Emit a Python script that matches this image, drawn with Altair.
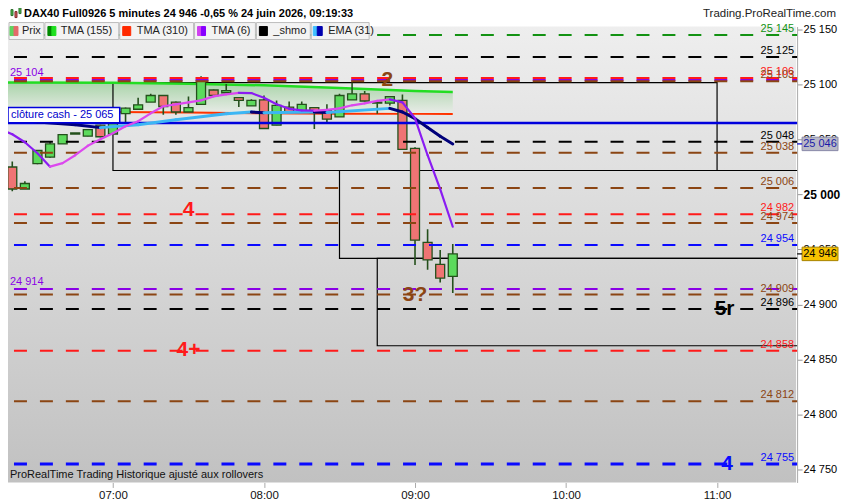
import altair as alt
import pandas as pd

# --- Bougies 5 minutes : heure, ouverture, plus haut, plus bas, cloture ---
candle_time = ["06:20", "06:25", "06:30", "06:35", "06:40", "06:45", "06:50", "06:55",
               "07:00", "07:05", "07:10", "07:15", "07:20", "07:25", "07:30", "07:35",
               "07:40", "07:45", "07:50", "07:55", "08:00", "08:05", "08:10", "08:15",
               "08:20", "08:25", "08:30", "08:35", "08:40", "08:45", "08:50", "08:55",
               "09:00", "09:05", "09:10", "09:15"]
candle_open = [25025, 25005, 25028, 25034, 25046, 25055, 25053, 25063, 25055, 25073.5,
               25077.5, 25084, 25090, 25084, 25075, 25082, 25095, 25092.5, 25088, 25080.5,
               25086, 25063, 25079.5, 25076, 25079, 25076.5, 25070.5, 25086, 25091.5, 25083,
               25083, 25085.5, 25042, 24956.5, 24936.5, 24925.5]
candle_high = [25030, 25012, 25040.5, 25048.5, 25055, 25056, 25059.5, 25063.5, 25069.5, 25079,
               25088, 25091.5, 25090.5, 25084.5, 25089, 25107.5, 25095.5, 25100.5, 25088.5, 25086.5,
               25090, 25085.5, 25084.5, 25084.5, 25079.5, 25082, 25091.5, 25101.5, 25094, 25085.5,
               25089.5, 25091, 25043, 24968.5, 24949.5, 24955]
candle_low = [25003, 25005, 25027.5, 25033.5, 25046, 25055, 25053, 25052, 25055, 25064.5,
              25077.5, 25084, 25072.5, 25072.5, 25075, 25082, 25089.5, 25092.5, 25079.5, 25080.5,
              25059.5, 25063, 25074.5, 25076, 25059.5, 25064.5, 25070.5, 25086, 25084.5, 25073.5,
              25081, 25040.5, 24936, 24931.5, 24920, 24910.5]
candle_close = [25005, 25010, 25040, 25046, 25054.5, 25056, 25059, 25052.5, 25069, 25078.5,
                25081.5, 25090, 25080, 25075, 25079, 25106, 25090, 25094.5, 25085.5, 25085.5,
                25060, 25081, 25075, 25082, 25074.5, 25068.5, 25090, 25091.5, 25085, 25084,
                25089, 25041, 24958.5, 24940.5, 24924, 24946]

# --- Indicateurs ---
tma6_time = ["06:15"] + candle_time
tma6_value = [25059.5, 25054.8, 25047.5, 25037.5, 25025.3, 25028.5, 25035.7, 25044.3, 25050.2,
              25055.7, 25062, 25066.6, 25073.8, 25080.2, 25082, 25083.8, 25085.6, 25089.2,
              25091, 25092.4, 25092.2, 25087.9, 25082, 25077.9, 25076.5, 25076.3, 25077,
              25078.3, 25081.1, 25082.9, 25085.1, 25086.5, 25083.8, 25069.3, 25035.7,
              25004.9, 24970.7]

ema_time = ["06:25", "06:30", "06:45", "06:55", "07:10", "07:25", "07:45", "07:55", "08:00",
            "08:20", "08:25", "08:50", "08:55", "09:00", "09:05", "09:10", "09:15"]
ema_value = [25067, 25066, 25063.5, 25060.8, 25063.5, 25068, 25073.5, 25075, 25074.4,
             25075, 25074.6, 25078.3, 25075, 25069, 25061, 25053, 25046]

tma_time = ["06:15", "07:00", "07:30", "08:00", "08:30", "09:00", "09:15"]
tma155_value = [25101.8, 25101.7, 25100.6, 25099.3, 25096.8, 25094.2, 25093.1]
tma310_value = [25075.5, 25075.0, 25074.5, 25073.9, 25073.5, 25073.3, 25073.2]

# --- Niveaux horizontaux ---
level_price = [25145, 25125, 25106, 25104, 25103, 25048, 25038, 25006, 24982, 24974,
               24954, 24914, 24909, 24896, 24858, 24812, 24755]
level_group = ["green", "black", "red", "purple", "brown", "black", "brown", "brown", "red",
               "brown", "blue", "purple", "brown", "black", "red", "brown", "blue"]
cash_price = 25065

# --- Rectangles ---
box_start = ["07:00", "08:30", "08:45"]
box_end = ["11:00", "11:45", "11:45"]
box_top = [25101.7, 25021.8, 24942]
box_bottom = [25021.8, 24942, 24862.5]

# --- Annotations ---
note_text = ["2", "4", "3?", "4+", "5r", "4"]
note_time = ["08:49", "07:30", "09:00", "07:30", "11:03", "11:04"]
note_price = [25104.5, 24985.8, 24908.7, 24858.8, 24896, 24755.4]
note_group = ["brown", "red", "brown", "red", "black", "blue"]

y_ticks = [24750, 24800, 24850, 24900, 24950, 25000, 25050, 25100, 25150]
x_ticks = ["07:00", "08:00", "09:00", "10:00", "11:00"]

GROUPS = ["green", "black", "red", "purple", "brown", "blue"]
LINE_COLORS = ["#139213", "#000000", "#ff1a1a", "#8a00e6", "#8b4513", "#0a0aff"]
TEXT_COLORS = ["#1fa01f", "#000000", "#ff2020", "#9a10e0", "#8b4513", "#1a1aff"]
W, H = 791, 457


def minutes(hhmm):
    h, m = hhmm.split(":")
    return int(h) * 60 + int(m)


def fmt(p):
    return f"{p:,}".replace(",", " ")


def segments(times, values, up, down):
    rows = []
    for i in range(len(times) - 1):
        col = up if values[i + 1] >= values[i] else down
        for j in (i, i + 1):
            rows.append({"s": i, "t": minutes(times[j]), "p": values[j], "col": col})
    return pd.DataFrame(rows)


candles = pd.DataFrame({"t": [minutes(t) for t in candle_time], "o": candle_open,
                        "h": candle_high, "l": candle_low, "c": candle_close})
tma = pd.DataFrame({"t": [minutes(t) for t in tma_time], "a": tma155_value, "b": tma310_value})
levels = pd.DataFrame({"p": level_price, "g": level_group,
                       "label": [fmt(p) for p in level_price]})
boxes = pd.DataFrame({"t0": [minutes(t) for t in box_start], "t1": [minutes(t) for t in box_end],
                      "p0": box_top, "p1": box_bottom})
notes = pd.DataFrame({"t": [minutes(t) for t in note_time], "p": note_price,
                      "txt": note_text, "g": note_group})
cash = pd.DataFrame({"p": [cash_price], "label": [f"clôture cash -  {fmt(cash_price)}"]})
ema_tag = pd.DataFrame({"p": [ema_value[-1]], "label": [fmt(ema_value[-1])]})
last_tag = pd.DataFrame({"p": [candle_close[-1]], "label": [fmt(candle_close[-1])]})
one = pd.DataFrame({"a": [0]})

xs = alt.Scale(domain=[378.3, 691.8], nice=False, zero=False, padding=0)
ys = alt.Scale(domain=[24738.2, 25152.7], nice=False, zero=False, padding=0)
xax = alt.Axis(title=None, values=[minutes(t) for t in x_ticks], grid=False, domain=False,
               tickSize=5, tickColor="#aaaaaa", labelFontSize=11.5, labelColor="#111111",
               labelPadding=2,
               labelExpr="(datum.value < 600 ? '0' : '') + floor(datum.value / 60) + ':00'")
yax = alt.Axis(title=None, orient="right", values=y_ticks, grid=False, domainColor="#aaaaaa",
               tickSize=5, tickColor="#999999", labelColor="#000000", labelPadding=1,
               labelFontSize=alt.condition("datum.value == 25000", alt.value(12), alt.value(11)),
               labelFontWeight=alt.condition("datum.value == 25000", alt.value("bold"),
                                             alt.value("normal")),
               labelExpr="replace(format(datum.value, ','), ',', ' ')")


def X(f):
    return alt.X(f, type="quantitative", scale=xs, axis=xax)


def Y(f):
    return alt.Y(f, type="quantitative", scale=ys, axis=yax)


line_color = alt.Color("g:N", scale=alt.Scale(domain=GROUPS, range=LINE_COLORS), legend=None)
text_color = alt.Color("g:N", scale=alt.Scale(domain=GROUPS, range=TEXT_COLORS), legend=None)


def rect(x0, x1, y0, y1, fill, stroke="#bdbdbd"):
    return alt.Chart(one).mark_rect(fill=fill, stroke=stroke, strokeWidth=1).encode(
        x=alt.value(x0), x2=alt.value(x1), y=alt.value(y0), y2=alt.value(y1))


def label(x, y, text, size=11, color="#222222", weight="normal", align="left"):
    return alt.Chart(one).mark_text(text=text, fontSize=size, color=color, fontWeight=weight,
                                    align=align, baseline="middle").encode(
        x=alt.value(x), y=alt.value(y))


bg_grad = alt.LinearGradient(gradient="linear", x1=0, y1=0, x2=0, y2=1,
                             stops=[alt.GradientStop(offset=0, color="#eeeeee"),
                                    alt.GradientStop(offset=1, color="#c1c1c1")])
tma_grad = alt.LinearGradient(gradient="linear", x1=0, y1=0, x2=0, y2=1,
                              stops=[alt.GradientStop(offset=0, color="#a9d4a9"),
                                     alt.GradientStop(offset=1, color="#eaece9")])

background = alt.Chart(one).mark_rect(fill=bg_grad).encode(
    x=alt.value(0), x2=alt.value(W - 1), y=alt.value(0), y2=alt.value(H))

tma_band = alt.Chart(tma).mark_area(fill=tma_grad, clip=True).encode(
    x=X("t"), y=Y("a"), y2=alt.Y2("b"))
tma155 = alt.Chart(tma).mark_line(color="#22dd22", strokeWidth=2.5, clip=True).encode(
    x=X("t"), y=Y("a"))
tma310 = alt.Chart(tma).mark_line(color="#ff3300", strokeWidth=2, clip=True).encode(
    x=X("t"), y=Y("b"))

box_layer = alt.Chart(boxes).mark_rect(fillOpacity=0, stroke="#000000", strokeWidth=1.2,
                                       clip=True).encode(
    x=X("t0"), x2=alt.X2("t1"), y=Y("p0"), y2=alt.Y2("p1"))

wicks = alt.Chart(candles).mark_rule(color="#24501c", strokeWidth=1.6, clip=True).encode(
    x=X("t"), y=Y("l"), y2=alt.Y2("h"))
bodies = alt.Chart(candles).mark_bar(width=9, stroke="#24501c", strokeWidth=1.3,
                                     clip=True).encode(
    x=X("t"), y=Y("o"), y2=alt.Y2("c"),
    fill=alt.condition("datum.c >= datum.o", alt.value("#5cda5c"), alt.value("#ef7474")))

level_rules = alt.Chart(levels).mark_rule(strokeDash=[13, 13], strokeDashOffset=8).encode(
    y=Y("p"), color=line_color,
    strokeWidth=alt.condition("datum.p < 24760", alt.value(3), alt.value(2)))
cash_rule = alt.Chart(cash).mark_rule(color="#0000dd", strokeWidth=2.5).encode(y=Y("p"))

ema_lines = alt.Chart(segments(ema_time, ema_value, "#3cb6f4", "#00007a")).mark_line(
    strokeWidth=3, strokeCap="round", clip=True).encode(
    x=X("t"), y=Y("p"), detail="s:N", color=alt.Color("col:N", scale=None))
tma6_lines = alt.Chart(segments(tma6_time, tma6_value, "#dc48ee", "#8a1cf2")).mark_line(
    strokeWidth=2.2, strokeCap="round", clip=True).encode(
    x=X("t"), y=Y("p"), detail="s:N", color=alt.Color("col:N", scale=None))

note_layer = alt.Chart(notes).mark_text(fontSize=21, fontWeight="bold", baseline="middle").encode(
    x=X("t"), y=Y("p"), text="txt:N", color=text_color)

right_labels = alt.Chart(levels).transform_filter("datum.g != 'purple'").mark_text(
    align="right", baseline="bottom", dy=-1, fontSize=11).encode(
    x=alt.value(788), y=Y("p"), text="label:N", color=text_color)
left_labels = alt.Chart(levels).transform_filter("datum.g == 'purple'").mark_text(
    align="left", baseline="bottom", dy=-2, fontSize=11).encode(
    x=alt.value(2), y=Y("p"), text="label:N", color=text_color)

cash_box = alt.Chart(cash).mark_point(
    shape="M-1,-0.1366L1,-0.1366L1,0.1366L-1,0.1366Z", size=12544, filled=True, fill="white",
    stroke="#0000dd", strokeWidth=1.5, opacity=1, yOffset=-8).encode(x=alt.value(56), y=Y("p"))
cash_text = alt.Chart(cash).mark_text(align="left", baseline="middle", fontSize=11,
                                      color="#0000cc", dy=-8).encode(
    x=alt.value(3), y=Y("p"), text="label:N")

TAG = "M-1,-0.375L1,-0.375L1,0.375L-1,0.375Z"
ema_box = alt.Chart(ema_tag).mark_point(shape=TAG, size=1296, filled=True, fill="#b9b9c6",
                                        stroke="#8a8aa8", strokeWidth=1, opacity=1).encode(
    x=alt.value(814), y=Y("p"))
ema_tick = alt.Chart(ema_tag).mark_rule(color="#0000cc", strokeWidth=1.2).encode(
    x=alt.value(W), x2=alt.value(W + 5), y=Y("p"))
ema_text = alt.Chart(ema_tag).mark_text(fontSize=11, color="#1a1aa8", baseline="middle").encode(
    x=alt.value(814), y=Y("p"), text="label:N")
last_box = alt.Chart(last_tag).mark_point(shape=TAG, size=1296, filled=True, fill="#f6c200",
                                          stroke="#a88400", strokeWidth=1, opacity=1).encode(
    x=alt.value(814), y=Y("p"))
last_tick = alt.Chart(last_tag).mark_rule(color="#000000", strokeWidth=1.2).encode(
    x=alt.value(W), x2=alt.value(W + 5), y=Y("p"))
last_text = alt.Chart(last_tag).mark_text(fontSize=11, color="#000000", baseline="middle").encode(
    x=alt.value(814), y=Y("p"), text="label:N")

# barre de legende en haut a gauche
legend_row = [
    rect(1, 36, -4, 13, "#f3f3f3"), rect(37, 111, -4, 13, "#f3f3f3"),
    rect(112, 186, -4, 13, "#f3f3f3"), rect(187, 248, -4, 13, "#f3f3f3"),
    rect(249, 303, -4, 13, "#f3f3f3"), rect(304, 362, -4, 13, "#f3f3f3"),
    rect(2, 6, 0, 9, "#5fd35f", "#5fd35f"), rect(6, 10, 0, 9, "#e46a6a", "#e46a6a"),
    rect(40, 44, 0, 9, "#008a00", "#008a00"), rect(44, 48, 0, 9, "#1ee01e", "#1ee01e"),
    rect(115, 123, 0, 9, "#ff2a00", "#ff2a00"),
    rect(190, 194, 0, 9, "#d040f0", "#d040f0"), rect(194, 198, 0, 9, "#8800ff", "#8800ff"),
    rect(252, 260, 0, 9, "#000000", "#000000"),
    rect(306, 310, 0, 9, "#40c0ff", "#40c0ff"), rect(310, 315, 0, 9, "#0000b0", "#0000b0"),
    label(14, 4.5, "Prix"), label(53, 4.5, "TMA (155)"), label(129, 4.5, "TMA (310)"),
    label(204, 4.5, "TMA (6)"), label(266, 4.5, "_shmo"), label(321, 4.5, "EMA (31)"),
]
header = [
    rect(3, 5, -17, -11, "#4cc04c", "#2a6a2a"), rect(7, 9, -15, -9, "#e06060", "#7a2a2a"),
    rect(11, 13, -19, -13, "#4cc04c", "#2a6a2a"),
    label(16, -13, "DAX40 Full0926 5 minutes 24 946 -0,65 % 24 juin 2026, 09:19:33",
          size=11, color="#000000", weight="bold"),
    label(830, -13, "Trading.ProRealTime.com", size=11.5, color="#222222", align="right"),
    label(2, 450, "ProRealTime Trading  Historique ajusté aux rollovers", size=11,
          color="#111111"),
]

chart = alt.layer(
    background, tma_band, box_layer, tma155, tma310, wicks, bodies, level_rules, cash_rule,
    ema_lines, tma6_lines, note_layer, right_labels, left_labels, cash_box, cash_text,
    ema_box, ema_tick, ema_text, last_box, last_tick, last_text, *legend_row, *header
).properties(
    width=W, height=H,
    padding={"left": 0, "top": 18, "right": 45, "bottom": 17},
    autosize=alt.AutoSizeParams(type="none"),
    background="white",
).configure(font="Liberation Sans").configure_view(strokeWidth=0)

chart.save("out.html", embed_options={"renderer": "svg", "actions": False})
